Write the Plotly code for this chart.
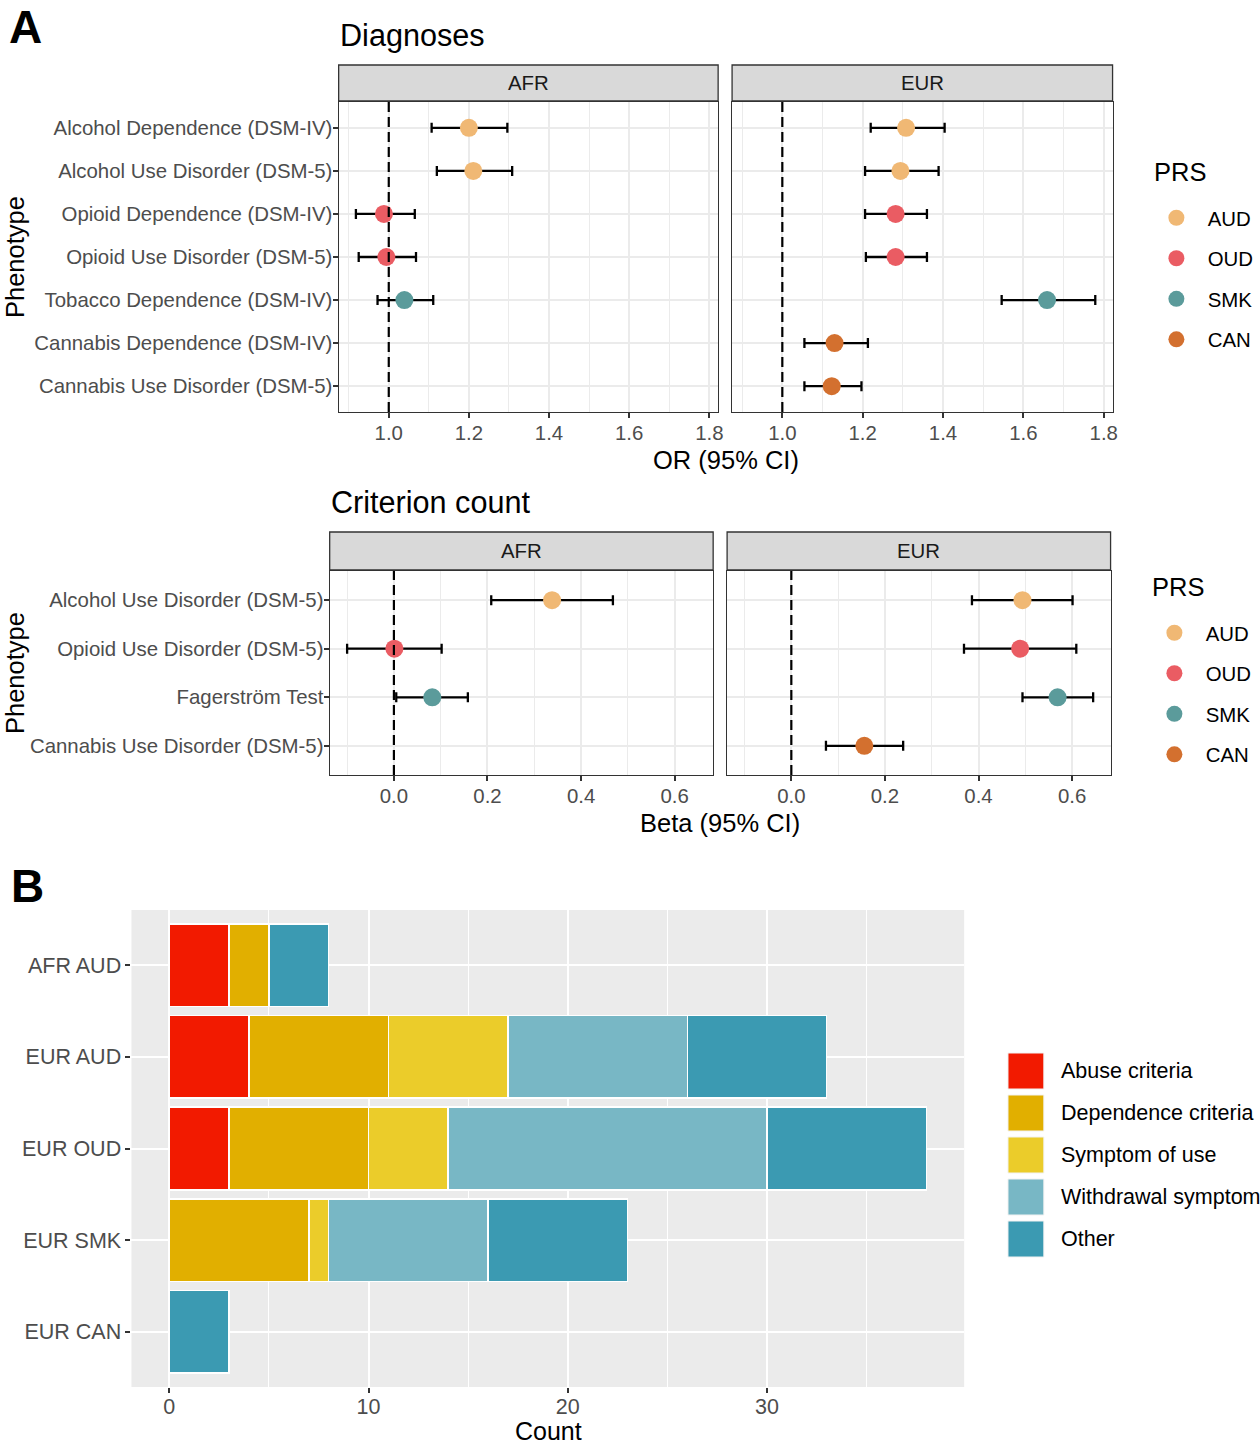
import plotly.graph_objects as go

W, H = 1260, 1446
FONT = "Liberation Sans, Arial, Helvetica, sans-serif"

# ---------------- data ----------------
prs_names = ["AUD", "OUD", "SMK", "CAN"]
prs_colors = ["#F0B874", "#EA5C63", "#5B9B9B", "#D3702F"]

diag_phenotypes = ["Alcohol Dependence (DSM-IV)", "Alcohol Use Disorder (DSM-5)",
                   "Opioid Dependence (DSM-IV)", "Opioid Use Disorder (DSM-5)",
                   "Tobacco Dependence (DSM-IV)", "Cannabis Dependence (DSM-IV)",
                   "Cannabis Use Disorder (DSM-5)"]
diag_prs = ["AUD", "AUD", "OUD", "OUD", "SMK", "CAN", "CAN"]
afr_diag_or = [1.200, 1.211, 0.988, 0.994, 1.039, None, None]
afr_diag_lo = [1.107, 1.120, 0.918, 0.925, 0.972, None, None]
afr_diag_hi = [1.296, 1.308, 1.065, 1.068, 1.111, None, None]
eur_diag_or = [1.308, 1.294, 1.282, 1.282, 1.659, 1.130, 1.123]
eur_diag_lo = [1.220, 1.206, 1.206, 1.208, 1.546, 1.055, 1.055]
eur_diag_hi = [1.404, 1.389, 1.360, 1.360, 1.779, 1.213, 1.197]

crit_phenotypes = ["Alcohol Use Disorder (DSM-5)", "Opioid Use Disorder (DSM-5)",
                   "Fagerström Test", "Cannabis Use Disorder (DSM-5)"]
crit_prs = ["AUD", "OUD", "SMK", "CAN"]
afr_crit_beta = [0.338, 0.001, 0.082, None]
afr_crit_lo = [0.208, -0.100, 0.005, None]
afr_crit_hi = [0.468, 0.102, 0.158, None]
eur_crit_beta = [0.494, 0.489, 0.569, 0.156]
eur_crit_lo = [0.386, 0.369, 0.494, 0.074]
eur_crit_hi = [0.601, 0.609, 0.645, 0.239]

bar_groups = ["AFR AUD", "EUR AUD", "EUR OUD", "EUR SMK", "EUR CAN"]
symptom_types = ["Abuse criteria", "Dependence criteria", "Symptom of use",
                 "Withdrawal symptom", "Other"]
symptom_colors = ["#F21A00", "#E1AF00", "#EBCC2A", "#78B7C5", "#3B9AB2"]
abuse_counts = [3, 4, 3, 0, 0]
dependence_counts = [2, 7, 7, 7, 0]
symptom_use_counts = [0, 6, 4, 1, 0]
withdrawal_counts = [0, 9, 16, 8, 0]
other_counts = [3, 7, 8, 7, 3]

# ---------------- helpers ----------------
def xd(a, b):
    return [a / W, b / W]

def yd(top, bot):
    return [1 - bot / H, 1 - top / H]

color_of = dict(zip(prs_names, prs_colors))
TICKC = "#4D4D4D"
LINEC = "#333333"
GRID = "#EBEBEB"
NB = "\u00a0"

fig = go.Figure()

def forest(vals, lo, hi, cats, prs, xa, ya):
    xs, ys, ep, em, cs = [], [], [], [], []
    for v, l, h, c, p in zip(vals, lo, hi, cats, prs):
        if v is None:
            continue
        xs.append(v); ys.append(c); ep.append(h - v); em.append(v - l)
        cs.append(color_of[p])
    fig.add_trace(go.Scatter(
        x=xs, y=ys, mode="markers", xaxis=xa, yaxis=ya, showlegend=False,
        marker=dict(size=18, color=cs, line=dict(width=0)),
        error_x=dict(type="data", symmetric=False, array=ep, arrayminus=em,
                     color="black", thickness=2.3, width=5),
        hoverinfo="skip"))

forest(afr_diag_or, afr_diag_lo, afr_diag_hi, diag_phenotypes, diag_prs, "x", "y")
forest(eur_diag_or, eur_diag_lo, eur_diag_hi, diag_phenotypes, diag_prs, "x2", "y2")
forest(afr_crit_beta, afr_crit_lo, afr_crit_hi, crit_phenotypes, crit_prs, "x3", "y3")
forest(eur_crit_beta, eur_crit_lo, eur_crit_hi, crit_phenotypes, crit_prs, "x4", "y4")

# legend entries for PRS
for leg, xa, ya in (("legend", "x2", "y2"), ("legend2", "x4", "y4")):
    for p, c in zip(prs_names, prs_colors):
        fig.add_trace(go.Scatter(
            x=[None], y=[None], mode="markers", name=NB * 2 + p, legend=leg,
            legendgroup=leg + p, xaxis=xa, yaxis=ya,
            marker=dict(size=18, color=c)))

# stacked bars
for name, col, counts in zip(symptom_types, symptom_colors,
                             [abuse_counts, dependence_counts, symptom_use_counts,
                              withdrawal_counts, other_counts]):
    fig.add_trace(go.Bar(
        x=[v if v else None for v in counts], y=bar_groups, orientation="h",
        name=name, showlegend=False, xaxis="x5", yaxis="y5",
        marker=dict(color=col, line=dict(color="white", width=1.5)),
        hoverinfo="skip"))

def rng(lo, hi):
    a = min(v for v in lo if v is not None)
    b = max(v for v in hi if v is not None)
    pad = 0.05 * (b - a)
    return [a - pad, b + pad]

diag_range = rng(afr_diag_lo + eur_diag_lo, afr_diag_hi + eur_diag_hi)
crit_range = rng(afr_crit_lo + eur_crit_lo, afr_crit_hi + eur_crit_hi)
bar_totals = [sum(t) for t in zip(abuse_counts, dependence_counts, symptom_use_counts,
                                  withdrawal_counts, other_counts)]
bar_range = [-0.05 * max(bar_totals), 1.05 * max(bar_totals)]

tickfont = dict(family=FONT, size=20.4, color=TICKC)
tickfont_b = dict(family=FONT, size=21.5, color=TICKC)

def fx(domain, anchor, rnge, dtick, mdtick):
    return dict(domain=domain, anchor=anchor, range=rnge, dtick=dtick, tick0=0,
                showgrid=True, gridcolor=GRID, gridwidth=2, zeroline=False,
                showline=True, mirror=True, linecolor=LINEC, linewidth=1.3,
                ticks="outside", ticklen=5, tickwidth=1.5, tickcolor=LINEC,
                tickfont=tickfont, tickformat=".1f", ticklabelstandoff=-3,
                minor=dict(dtick=mdtick, tick0=0, showgrid=True, gridcolor=GRID,
                           gridwidth=1, ticks=""))

def fy(domain, anchor, cats, labels):
    return dict(domain=domain, anchor=anchor, type="category",
                categoryorder="array", categoryarray=list(reversed(cats)),
                range=[-0.6, len(cats) - 0.4],
                showgrid=True, gridcolor=GRID, gridwidth=2, zeroline=False,
                showline=True, mirror=True, linecolor=LINEC, linewidth=1.3,
                ticks="outside" if labels else "", ticklen=5, tickwidth=1.5,
                tickcolor=LINEC, showticklabels=labels, tickfont=tickfont,
                ticklabelstandoff=-4)

top_y = yd(102, 412)
bot_y = yd(571, 775)

fig.update_layout(
    width=W, height=H, margin=dict(l=0, r=0, t=0, b=0), autosize=False,
    paper_bgcolor="white", plot_bgcolor="white",
    font=dict(family=FONT, color="black"),
    barmode="stack", bargap=0.1,
    xaxis=fx(xd(340, 721), "y", diag_range, 0.2, 0.1),
    yaxis=fy(top_y, "x", diag_phenotypes, True),
    xaxis2=fx(xd(735, 1117), "y2", diag_range, 0.2, 0.1),
    yaxis2=fy(top_y, "x2", diag_phenotypes, False),
    xaxis3=fx(xd(331, 716), "y3", crit_range, 0.2, 0.1),
    yaxis3=fy(bot_y, "x3", crit_phenotypes, True),
    xaxis4=fx(xd(730, 1115), "y4", crit_range, 0.2, 0.1),
    yaxis4=fy(bot_y, "x4", crit_phenotypes, False),
    xaxis5=dict(domain=xd(132, 968), anchor="y5", range=bar_range, dtick=10, tick0=0,
                showgrid=True, gridcolor="white", gridwidth=2, zeroline=False,
                showline=False, ticks="outside", ticklen=5, tickwidth=1.5,
                tickcolor=LINEC, tickfont=tickfont_b, ticklabelstandoff=-5,
                minor=dict(dtick=5, tick0=0, showgrid=True, gridcolor="white",
                           gridwidth=1, ticks="")),
    yaxis5=dict(domain=yd(910, 1387), anchor="x5", type="category",
                categoryorder="array", categoryarray=list(reversed(bar_groups)),
                range=[-0.6, len(bar_groups) - 0.4],
                showgrid=True, gridcolor="white", gridwidth=2, zeroline=False,
                showline=False, ticks="outside", ticklen=5, tickwidth=1.5,
                tickcolor=LINEC, tickfont=tickfont_b),
    legend=dict(x=1161 / W, y=1 - 198 / H, xanchor="left", yanchor="top",
                font=dict(size=20.4, color="black"), tracegroupgap=11,
                bgcolor="rgba(0,0,0,0)"),
    legend2=dict(x=1159 / W, y=1 - 613 / H, xanchor="left", yanchor="top",
                 font=dict(size=20.4, color="black"), tracegroupgap=11,
                 bgcolor="rgba(0,0,0,0)"),
)

shapes = []
annotations = []

# panel B background
shapes.append(dict(type="rect", xref="x5 domain", yref="y5 domain", x0=0, x1=1, y0=0, y1=1,
                   fillcolor="#EBEBEB", line=dict(width=0), layer="below"))

# facet strips
for xa, label, top, bot in (("x", "AFR", 65, 101), ("x2", "EUR", 65, 101),
                            ("x3", "AFR", 532, 570), ("x4", "EUR", 532, 570)):
    shapes.append(dict(type="rect", xref=xa + " domain", yref="paper", x0=0, x1=1,
                       y0=1 - bot / H, y1=1 - top / H, fillcolor="#D9D9D9",
                       line=dict(color=LINEC, width=1.3)))
    annotations.append(dict(text=label, xref=xa + " domain", yref="paper", x=0.5,
                            y=1 - (top + bot) / 2 / H, xanchor="center", yanchor="middle",
                            showarrow=False, font=dict(size=20.4, color="#1A1A1A")))

# reference lines
for xa, ya, v in (("x", "y", 1), ("x2", "y2", 1), ("x3", "y3", 0), ("x4", "y4", 0)):
    shapes.append(dict(type="line", xref=xa, yref=ya + " domain", x0=v, x1=v, y0=0, y1=1,
                       line=dict(color="black", width=2.2, dash="10px,5px")))

# manual legend for panel B
for i, (name, col) in enumerate(zip(symptom_types, symptom_colors)):
    cy = 1071 + 42 * i
    shapes.append(dict(type="rect", xref="paper", yref="paper",
                       x0=1012 / W, x1=1048 / W, y0=1 - (cy + 18) / H, y1=1 - (cy - 18) / H,
                       fillcolor=col, line=dict(color="#F2F2F2", width=1)))
    annotations.append(dict(text=name, xref="paper", yref="paper", x=1064 / W,
                            y=1 - cy / H, xanchor="left", yanchor="middle", borderpad=0,
                            showarrow=False, font=dict(size=21.5, color="black")))

def ann(text, x, y, size, **kw):
    d = dict(text=text, xref="paper", yref="paper", x=x / W, y=1 - y / H,
             showarrow=False, font=dict(size=size, color="black"))
    d.update(kw)
    annotations.append(d)

ann("<b>A</b>", 8, 0, 46, xanchor="left", yanchor="top", borderpad=0)
ann("<b>B</b>", 9, 886, 46, xanchor="left", yanchor="middle")
ann("Diagnoses", 339, 35, 30.6, xanchor="left", yanchor="middle")
ann("Criterion count", 330, 502, 30.6, xanchor="left", yanchor="middle")
ann("PRS", 1158, 172, 25.5, xanchor="left", yanchor="middle", borderpad=0)
ann("PRS", 1156, 587, 25.5, xanchor="left", yanchor="middle", borderpad=0)
ann("OR (95% CI)", 729, 460, 25.5, xanchor="center", yanchor="middle")
ann("Beta (95% CI)", 723, 823, 25.5, xanchor="center", yanchor="middle")
ann("Count", 551, H, 25, xanchor="center", yanchor="bottom", borderpad=0)
ann("Phenotype", 0, 257, 25.5, textangle=-90, xanchor="left", yanchor="middle", borderpad=0)
ann("Phenotype", 0, 673, 25.5, textangle=-90, xanchor="left", yanchor="middle", borderpad=0)

fig.update_layout(shapes=shapes, annotations=annotations)

fig.write_html("out.html", config={"displayModeBar": False},
               post_script="document.body.style.margin='0';document.body.style.overflow='hidden';")
